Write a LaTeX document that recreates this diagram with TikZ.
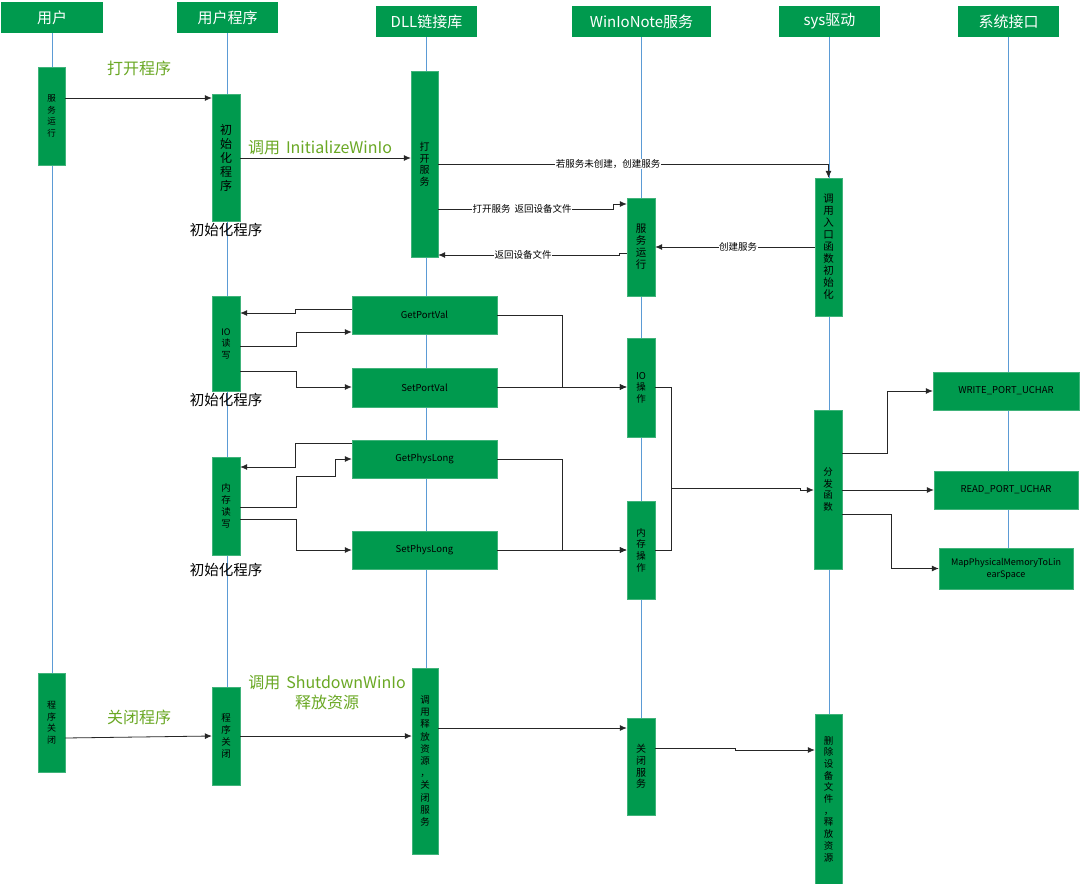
\documentclass[tikz,border=0pt]{standalone}
\usepackage{fontspec}
\setmainfont{Noto Sans CJK SC}
\usetikzlibrary{arrows.meta,backgrounds}
\definecolor{boxg}{RGB}{0,154,78}
\definecolor{labg}{RGB}{106,168,36}
\definecolor{lifec}{RGB}{91,155,213}
\newcommand{\fs}[2]{\fontsize{#1}{#2}\selectfont}
\begin{document}
\begin{tikzpicture}[x=1pt,y=-1pt,
  hdr/.style={fill=boxg, text=white, inner sep=0pt, font=\fs{15}{18}},
  act/.style={fill=boxg, draw=boxg!75!white, line width=0.4pt, inner sep=0pt, align=center, text=black},
  lifeln/.style={draw=lifec, line width=0.9pt},
  arr/.style={draw=black!85, line width=0.8pt, -{Latex[length=7pt,width=6pt]}},
  ln/.style={draw=black!85, line width=0.8pt},
  msg/.style={fill=white, inner sep=0.5pt, font=\fs{9.5}{11}},
  glab/.style={text=labg, font=\fs{16}{20}, inner sep=0pt, align=center},
  blab/.style={text=black, font=\fs{14.5}{17}, inner sep=0pt}]
\useasboundingbox (0,0) rectangle (1080,884);

% headers
\node[hdr, minimum width=102pt, minimum height=31pt] (h1) at (52,17.5) {用户};
\node[hdr, minimum width=101pt, minimum height=31pt] (h2) at (227.5,17.5) {用户程序};
\node[hdr, minimum width=101pt, minimum height=31pt] (h3) at (426.5,21.5) {DLL链接库};
\node[hdr, minimum width=139pt, minimum height=31pt] (h4) at (641.5,21.5) {WinIoNote服务};
\node[hdr, minimum width=101pt, minimum height=31pt] (h5) at (829.5,21.5) {sys驱动};
\node[hdr, minimum width=101pt, minimum height=31pt] (h6) at (1008.5,21.5) {系统接口};

% activation boxes
\node[act, minimum width=27pt, minimum height=98pt, font=\fs{8.5}{11.5}] (a1) at (51.5,116) {服\\务\\运\\行};
\node[act, minimum width=28pt, minimum height=127pt, font=\fs{12}{14}] (a2) at (226,157.5) {初\\始\\化\\程\\序};
\node[act, minimum width=27pt, minimum height=186pt, font=\fs{10}{11.5}] (a3) at (424.5,164) {打\\开\\服\\务};
\node[act, minimum width=28pt, minimum height=98pt, font=\fs{10.5}{12}] (a4) at (641,247) {服\\务\\运\\行};
\node[act, minimum width=27pt, minimum height=138pt, font=\fs{10.5}{12}] (a5) at (828.5,247) {调\\用\\入\\口\\函\\数\\初\\始\\化};
\node[act, minimum width=28pt, minimum height=95pt, font=\fs{9}{11.5}] (a6) at (226,343.5) {IO\\读\\写};
\node[act, minimum width=145pt, minimum height=38pt, font=\fs{9.5}{11}] (a7) at (424.5,315) {GetPortVal};
\node[act, minimum width=145pt, minimum height=39pt, font=\fs{9.5}{11}] (a8) at (424.5,387.5) {SetPortVal};
\node[act, minimum width=28pt, minimum height=99pt, font=\fs{9.5}{11.5}] (a9) at (641,387.5) {IO\\操\\作};
\node[act, minimum width=28pt, minimum height=98pt, font=\fs{9.5}{12}] (a10) at (226,506) {内\\存\\读\\写};
\node[act, minimum width=145pt, minimum height=38pt, font=\fs{9.5}{11}] (a11) at (424.5,459) {GetPhysLong};
\node[act, minimum width=145pt, minimum height=38pt, font=\fs{9.5}{11}] (a12) at (424.5,550) {SetPhysLong};
\node[act, minimum width=28pt, minimum height=98pt, font=\fs{9.5}{11.7}] (a13) at (641,550) {内\\存\\操\\作};
\node[act, minimum width=28pt, minimum height=159pt, font=\fs{9.5}{11.5}] (a14) at (828,489.5) {分\\发\\函\\数};
\node[act, minimum width=146pt, minimum height=38pt, font=\fs{9.5}{11}] (a15) at (1006,391) {WRITE\_PORT\_UCHAR};
\node[act, minimum width=144pt, minimum height=38pt, font=\fs{9.5}{11}] (a16) at (1006,490) {READ\_PORT\_UCHAR};
\node[act, minimum width=134pt, minimum height=41pt, font=\fs{9}{12}] (a17) at (1006,568.5) {MapPhysicalMemoryToLin\\earSpace};
\node[act, minimum width=27pt, minimum height=99pt, font=\fs{9}{11.5}] (a18) at (51.5,722.5) {程\\序\\关\\闭};
\node[act, minimum width=28pt, minimum height=98pt, font=\fs{9.5}{12}] (a19) at (226,736) {程\\序\\关\\闭};
\node[act, minimum width=26pt, minimum height=186pt, font=\fs{9.5}{12.2}] (a20) at (425,761) {调\\用\\释\\放\\资\\源\\，\\关\\闭\\服\\务};
\node[act, minimum width=28pt, minimum height=97pt, font=\fs{10}{11.7}] (a21) at (641,766.5) {关\\闭\\服\\务};
\node[act, minimum width=27pt, minimum height=170pt, font=\fs{9.5}{11.7}] (a22) at (828.5,799) {删\\除\\设\\备\\文\\件\\，\\释\\放\\资\\源};

% lifelines behind
\begin{pgfonlayer}{background}
\fill[white] (0,0) rectangle (1080,884);
\draw[lifeln] (h1.south) -- (h1.south |- a18.north);
\draw[lifeln] (h2.south) -- (h2.south |- a19.north);
\draw[lifeln] (h3.south) -- (h3.south |- a20.north);
\draw[lifeln] (h4.south) -- (h4.south |- a21.north);
\draw[lifeln] (h5.south) -- (h5.south |- a22.north);
\draw[lifeln] (h6.south) -- (h6.south |- a17.north);
\end{pgfonlayer}

% startup
\draw[arr] (a1.east |- 0,98) -- (a2.west |- 0,98);
\node[glab] (l1) at (139,68) {打开程序};
\draw[arr] (a2.east |- 0,158) -- (a3.west |- 0,158);
\node[glab] (l2) at (320,148) {调用\hspace{6pt}InitializeWinIo};
\node[blab] (b1) at (226,230) {初始化程序};

\draw[arr] (a3.east |- 0,164) -| (a5.north);
\node[msg] (m1) at (608,164) {若服务未创建，创建服务};
\draw[arr] (a3.east |- 0,209) -- ++(175,0) |- (a4.west |- 0,204);
\node[msg] (m2) at (522,209) {打开服务\hspace{4pt}返回设备文件};
\draw[arr] (a5.west |- 0,247) -- (a4.east |- 0,247);
\node[msg] (m3) at (738,247) {创建服务};
\draw[arr] (a4.west |- 0,253) -- ++(-7,0) |- (a3.east |- 0,255);
\node[msg] (m4) at (523,255) {返回设备文件};

% IO
\draw[arr] (a7.west |- 0,309) -- ++(-56,0) |- (a6.east |- 0,313);
\draw[arr] (a6.east |- 0,346) -- ++(56,0) |- (a7.west |- 0,332);
\draw[arr] (a6.east |- 0,371) -- ++(56,0) |- (a8.west |- 0,387);
\draw[arr] (a7.east |- 0,315) -- ++(65,0) |- (a9.west |- 0,387);
\draw[arr] (a8.east |- 0,387) -- (a9.west |- 0,387);
\node[blab] (b2) at (226,400) {初始化程序};

% memory
\draw[arr] (a11.west |- 0,443) -- ++(-56,0) |- (a10.east |- 0,467);
\draw[arr] (a10.east |- 0,507) -- ++(56,0) -- ++(0,-31) -- ++(39,0) |- (a11.west |- 0,459);
\draw[arr] (a10.east |- 0,519) -- ++(56,0) |- (a12.west |- 0,550);
\draw[arr] (a11.east |- 0,459) -- ++(65,0) |- (a13.west |- 0,550);
\draw[arr] (a12.east |- 0,550) -- (a13.west |- 0,550);
\node[blab] (b3) at (226,570) {初始化程序};

% dispatch
\draw[ln] (a9.east |- 0,387) -- ++(16,0) |- (a13.east |- 0,550);
\coordinate (j) at (671,488);
\draw[arr] (j) -- ++(129,0) -- ++(0,2) -- (a14.west |- 0,490);
\draw[arr] (a14.east |- 0,453) -- ++(45,0) |- (a15.west);
\draw[arr] (a14.east |- 0,490) -- (a16.west);
\draw[arr] (a14.east |- 0,514) -- ++(49,0) |- (a17.west);

% shutdown
\draw[arr] (a18.east |- 0,738) -- (a19.west |- 0,736);
\node[glab] (l3) at (139,717) {关闭程序};
\draw[arr] (a19.east |- 0,736) -- (a20.west |- 0,736);
\node[glab, font=\fs{16}{20}] (l4) at (327,693) {调用\hspace{6pt}ShutdownWinIo\\释放资源};
\draw[arr] (a20.east |- 0,728) -- (a21.west |- 0,728);
\draw[arr] (a21.east |- 0,748) -- ++(80,0) -- ++(0,2) -- (a22.west |- 0,750);
\end{tikzpicture}
\end{document}
